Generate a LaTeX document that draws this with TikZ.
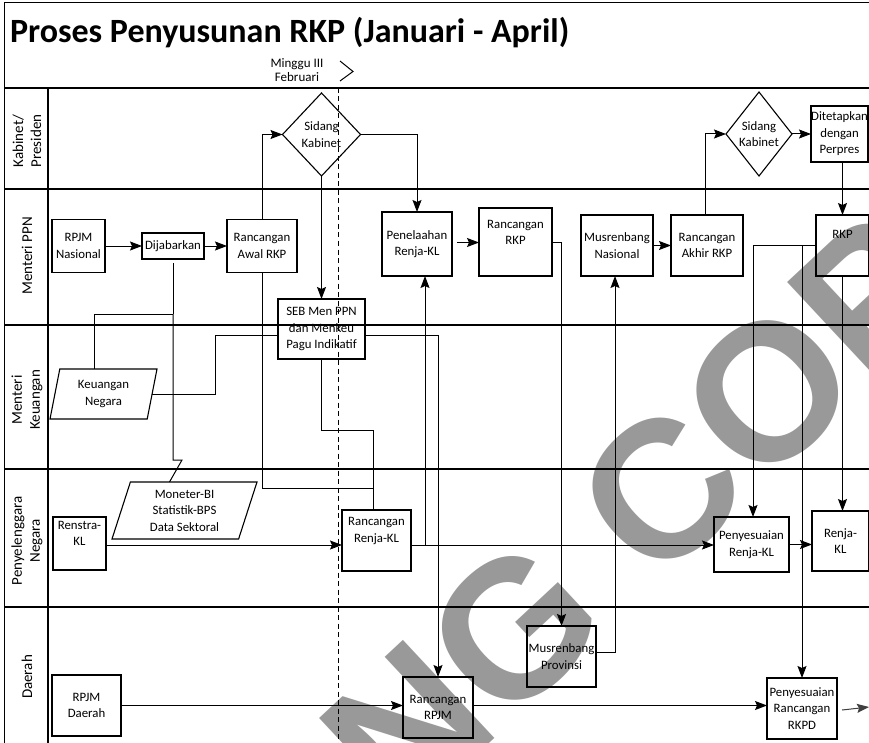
\documentclass[tikz,border=0pt]{standalone}
\usepackage{fontspec}
\setmainfont{Carlito}
\newfontfamily\wmfont{Liberation Sans}
\usetikzlibrary{arrows.meta,shapes.geometric,calc}
\begin{document}
\begin{tikzpicture}[x=1pt,y=-1pt,
  every node/.style={inner sep=0pt, outer sep=0pt},
  box/.style={draw, line width=1.1pt, align=center, font=\fontsize{12.8}{16.5}\selectfont},
  dat/.style={box, shape=trapezium, trapezium stretches body},
  dec/.style={box, shape=diamond},
  lane/.style={line width=1.2pt},
  link/.style={line width=1pt},
  arr/.style={link, -{Stealth[length=12pt,width=9pt,inset=2pt]}},
  lanetitle/.style={rotate=90, align=center, font=\fontsize{15}{18}\selectfont},
]
\useasboundingbox (0,0) rectangle (869,743);

% watermark underneath everything
\begin{scope}
  \clip (0,0) rectangle (869,743);
  \node[rotate=43, text=black!40, font=\wmfont\bfseries\fontsize{195}{195}\selectfont] (wm) at (685,469.5) {NG COPY};
\end{scope}

% frame and swimlanes
\draw[lane] (869,2.5) -- (4.5,2.5) -- (4.5,743);
\foreach \yy in {88,189,325,469,607} \draw[lane] (4.5,\yy) -- (869,\yy);
\draw[lane] (48,88) -- (48,743);

% title and time marker
\node[anchor=base west, font=\fontsize{34}{40}\selectfont\bfseries] (title) at (10,43) {Proses Penyusunan RKP (Januari - April)};
\node[align=center, font=\fontsize{13}{14.5}\selectfont] (week) at (297,70) {Minggu III\\Februari};
\draw[link] (340,61) -- (353,71.5) -- (340,81);
\draw[link, dash pattern=on 5pt off 3.5pt] (338,88) -- (338,743);

% lane titles
\node[lanetitle] (l1) at (27,141) {Kabinet/\\Presiden};
\node[lanetitle] (l2) at (27,256) {Menteri PPN};
\node[lanetitle] (l3) at (27,400) {Menteri\\Keuangan};
\node[lanetitle] (l4) at (27,541) {Penyelenggara\\Negara};
\node[lanetitle] (l5) at (27,677) {Daerah};

% Kabinet / Presiden
\node[dec, minimum width=78pt, minimum height=83pt] (sk1) at (321.5,134.5) {Sidang\\Kabinet};
\node[dec, minimum width=66pt, minimum height=84pt] (sk2) at (759,134) {Sidang\\Kabinet};
\node[box, minimum width=57pt, minimum height=56pt] (perpres) at (839.5,134) {Ditetapkan\\dengan\\Perpres};

% Menteri PPN
\node[box, minimum width=53pt, minimum height=53pt] (rpjmn) at (78.5,246) {RPJM\\Nasional};
\node[box, minimum width=62pt, minimum height=26pt] (dijab) at (173,246) {Dijabarkan};
\node[box, minimum width=70pt, minimum height=53pt] (awal) at (262,246) {Rancangan\\Awal RKP};
\node[box, minimum width=70pt, minimum height=64pt] (telaah) at (417,244) {Penelaahan\\Renja-KL};
\node[box, minimum width=73pt, minimum height=68pt] (rrkp) at (515.5,242) {Rancangan\\RKP\\[3pt]};
\node[box, minimum width=72pt, minimum height=61pt] (musnas) at (617,245.5) {Musrenbang\\Nasional};
\node[box, minimum width=72pt, minimum height=61pt] (akhir) at (707,245.5) {Rancangan\\Akhir RKP};
\node[box, minimum width=53pt, minimum height=61pt,
      label={[anchor=north, yshift=-15pt, font=\fontsize{12.8}{16.5}\selectfont]north:RKP}] (rkp) at (842.5,245.5) {};
\node[box, minimum width=87pt, minimum height=60pt] (seb) at (321.5,329) {SEB Men PPN\\dan Menkeu\\Pagu Indikatif};

% Menteri Keuangan
\node[dat, trapezium left angle=70, trapezium right angle=110, minimum width=107pt, minimum height=50pt] (keu) at (103.5,394) {Keuangan\\Negara};

% Penyelenggara Negara
\node[dat, trapezium left angle=66, trapezium right angle=114, minimum width=145pt, minimum height=57pt] (mon) at (184.5,510.5) {Moneter-BI\\Statistik-BPS\\Data Sektoral};
\node[box, minimum width=53pt, minimum height=53pt] (renstra) at (79.5,543.5) {Renstra-\\KL\\[4pt]};
\node[box, minimum width=69pt, minimum height=61pt] (renja1) at (376.5,540.5) {Rancangan\\Renja-KL\\[5pt]};
\node[box, minimum width=75pt, minimum height=55pt] (penrenja) at (751.5,544.5) {Penyesuaian\\Renja-KL};
\node[box, minimum width=57pt, minimum height=60pt] (renja2) at (840.5,541) {Renja-\\KL};

% Daerah
\node[box, minimum width=69pt, minimum height=61pt] (rpjmd) at (86.5,705.5) {RPJM\\Daerah};
\node[box, minimum width=70pt, minimum height=61pt] (rrpjm) at (438,707.5) {Rancangan\\RPJM};
\node[box, minimum width=69pt, minimum height=61pt] (musprov) at (561.5,656.5) {Musrenbang\\Provinsi};
\node[box, minimum width=70pt, minimum height=61pt] (rkpd) at (802,708.5) {Penyesuaian\\Rancangan\\RKPD};
\coordinate (out) at (869,707);

% junctions
\coordinate (jd) at (173,314);
\coordinate (ja) at (373.5,488);
\coordinate (jr) at (425,545);

% connectors
\draw[arr] (rpjmn) -- (dijab);
\draw[arr] (dijab) -- (awal);
\draw[arr] (awal.north) |- (sk1.west);
\draw[arr] (sk1.south) -- (seb.north);
\draw[arr] (sk1.east) -| (telaah.north);
\draw[link] ([yshift=-4pt]dijab.south) -- (jd);
\draw[link] (jd) -- ++(0,146) -- ++(9,0) -- ([xshift=-15pt]mon.north);
\draw[link] ([xshift=-9.5pt]keu.north) |- (jd);
\draw[link] (keu.east) -- ++(63.5,0) |- ([yshift=-6pt]seb.west);
\draw[arr] ([yshift=-6pt]seb.east) -| (rrpjm.north);
\draw[link] (seb.south) -- ++(0,71) -| ([xshift=-3pt]renja1.north);
\draw[link] (awal.south) |- (ja);
\draw[arr] ([yshift=-1.5pt]renstra.east) -- ([yshift=-1.5pt]renstra.east -| renja1.west);
\draw[link] ([yshift=-4.5pt]renja1.east) -- (jr);
\draw[arr] (jr) -- (jr |- telaah.south);
\draw[arr] (jr) -- (jr -| penrenja.west);
\draw[arr] (rpjmd.east) -- (rpjmd.east -| rrpjm.west);
\draw[arr] ([yshift=2pt]rrpjm.east) -- ([yshift=2pt]rrpjm.east -| rkpd.west);
\draw[arr] ([xshift=5pt,yshift=1.5pt]telaah.east) -- ([yshift=1.5pt]telaah.east -| rrkp.west);
\draw[arr] (rrkp.east) -- ++(9.5,0) -- (musprov.north);
\draw[arr] ([yshift=4pt]musprov.east) -| ([xshift=-2pt]musnas.south);
\draw[arr] (musnas) -- (akhir);
\draw[arr] ([xshift=-2pt]akhir.north) |- (sk2.west);
\draw[arr] (sk2) -- (perpres);
\draw[arr] (rkp.north |- perpres.south) -- (rkp.north);
\draw[arr] (rkp.west) -| ([xshift=1.5pt]penrenja.north);
\draw[arr] (rkpd.north |- rkp.west) -- (rkpd.north);
\draw[arr] (rkp.south) -- (rkp.south |- renja2.north);
\draw[arr] (penrenja.east) -- (penrenja.east -| renja2.west);
\draw[arr, draw=black!75, fill=black!75] ([xshift=5pt,yshift=-1.5pt]rkpd.east) -- (out);
\end{tikzpicture}
\end{document}
